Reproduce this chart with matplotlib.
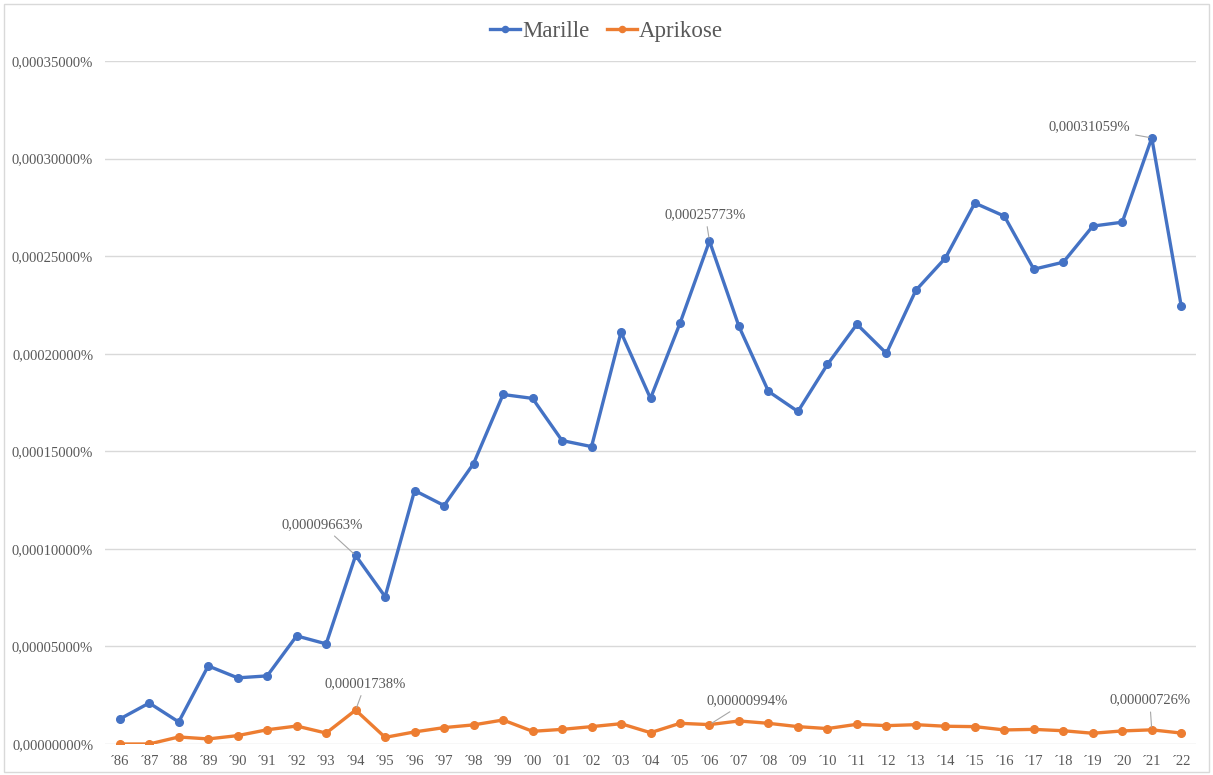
import matplotlib
matplotlib.use('Agg')
import matplotlib.pyplot as plt
from matplotlib.patches import Rectangle
from matplotlib.ticker import FuncFormatter

plt.rcParams['font.family'] = ['Liberation Serif', 'DejaVu Serif']

years = ['86', '87', '88', '89', '90', '91', '92', '93', '94', '95', '96', '97',
         '98', '99', '00', '01', '02', '03', '04', '05', '06', '07', '08', '09',
         '10', '11', '12', '13', '14', '15', '16', '17', '18', '19', '20', '21', '22']

# share in percent
marille = [0.0000128, 0.0000210, 0.0000113, 0.0000400, 0.0000339, 0.0000349,
           0.0000554, 0.0000513, 0.00009663, 0.0000755, 0.0001299, 0.0001222,
           0.0001437, 0.0001791, 0.0001771, 0.0001555, 0.0001524, 0.0002110,
           0.0001771, 0.0002156, 0.00025773, 0.0002140, 0.0001807, 0.0001704,
           0.0001945, 0.0002151, 0.0002002, 0.0002325, 0.0002490, 0.0002772,
           0.0002705, 0.0002433, 0.0002469, 0.0002654, 0.0002674, 0.00031059,
           0.0002243]

aprikose = [0.0, 0.0, 0.0000036, 0.0000026, 0.0000043, 0.0000073, 0.0000092,
            0.0000056, 0.00001738, 0.0000034, 0.0000062, 0.0000084, 0.0000098,
            0.0000123, 0.0000065, 0.0000075, 0.0000089, 0.0000104, 0.0000058,
            0.0000106, 0.00000994, 0.0000118, 0.0000106, 0.0000089, 0.0000079,
            0.0000101, 0.0000094, 0.0000099, 0.0000091, 0.0000089, 0.0000072,
            0.0000075, 0.0000068, 0.0000055, 0.0000067, 0.00000726, 0.0000056]

BLUE = '#4472C4'
ORANGE = '#ED7D31'
GREY = '#595959'

def pct(v):
    return ('%.8f' % v).replace('.', ',') + '%'

fig = plt.figure(figsize=(12.13, 7.75), dpi=100)
ax = fig.add_axes([105/1213, 1-744/775, (1196-105)/1213, (744-61)/775])

x = list(range(len(years)))
ax.plot(x, marille, color=BLUE, lw=2.4, marker='o', ms=5.5, label='Marille')
ax.plot(x, aprikose, color=ORANGE, lw=2.4, marker='o', ms=5.5, label='Aprikose')

ax.set_xlim(-0.5, len(years) - 0.5)
ax.set_ylim(0, 0.00035)
ax.set_yticks([i * 0.00005 for i in range(8)])
ax.yaxis.set_major_formatter(FuncFormatter(lambda v, p: pct(v)))
ax.set_xticks(x)
ax.set_xticklabels(['\u00b4' + y for y in years])
ax.tick_params(axis='both', length=0, colors=GREY, labelsize=10.5)
ax.tick_params(axis='y', pad=8.5)
ax.tick_params(axis='x', pad=8)
ax.grid(axis='y', color='#d9d9d9', lw=1)
ax.set_axisbelow(True)
for s in ax.spines.values():
    s.set_visible(False)

# data labels with leader lines
lab = dict(color=GREY, fontsize=10.5, ha='center', va='center',
           arrowprops=dict(arrowstyle='-', color='#a6a6a6', lw=0.8, shrinkA=2, shrinkB=2))
ax.annotate(pct(marille[8]), xy=(8, marille[8]), xytext=(-24, 22), textcoords='offset points', **lab)
ax.annotate(pct(marille[20]), xy=(20, marille[20]), xytext=(-3, 19), textcoords='offset points', **lab)
ax.annotate(pct(marille[35]), xy=(35, marille[35]), xytext=(-45, 8), textcoords='offset points', **lab)
ax.annotate(pct(aprikose[8]), xy=(8, aprikose[8]), xytext=(7, 19), textcoords='offset points', **lab)
ax.annotate(pct(aprikose[20]), xy=(20, aprikose[20]), xytext=(27, 17), textcoords='offset points', **lab)
ax.annotate(pct(aprikose[35]), xy=(35, aprikose[35]), xytext=(-1.5, 21.5), textcoords='offset points', **lab)

leg = fig.legend(loc='upper center', bbox_to_anchor=(0.5, 1.0), ncol=2, frameon=False,
                 fontsize=16.5, labelcolor=GREY, handlelength=1.3, handletextpad=0.1,
                 columnspacing=0.75, markerscale=0.8)

fig.patches.append(Rectangle((4/1213, 3/775), 1-8/1213, 1-7/775, transform=fig.transFigure,
                             fill=False, edgecolor='#d9d9d9', lw=1))

fig.savefig('out.png', dpi=100)
